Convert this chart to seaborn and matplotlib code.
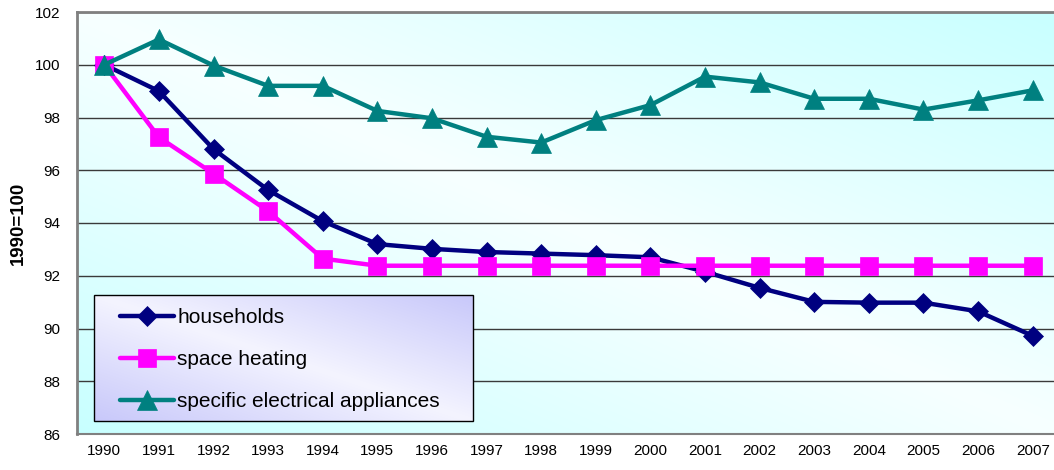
import numpy as np
import pandas as pd
import matplotlib
matplotlib.use("Agg")
import matplotlib.pyplot as plt
import seaborn as sns
from matplotlib.patches import Rectangle

# ---------------- data ----------------
years = list(range(1990, 2008))
households = [100.0, 99.0, 96.8, 95.25, 94.07, 93.2, 93.02, 92.9, 92.84,
              92.78, 92.7, 92.15, 91.54, 91.01, 90.98, 90.98, 90.65, 89.72]
space_heating = [100.0, 97.25, 95.87, 94.45, 92.65, 92.38, 92.38, 92.38, 92.38,
                 92.38, 92.38, 92.38, 92.38, 92.38, 92.38, 92.38, 92.38, 92.38]
appliances = [100.0, 100.96, 99.97, 99.2, 99.2, 98.25, 97.97, 97.27, 97.05,
              97.9, 98.47, 99.55, 99.33, 98.71, 98.71, 98.3, 98.65, 99.03]
series_names = ["households", "space heating", "specific electrical appliances"]
y_ticks = [86, 88, 90, 92, 94, 96, 98, 100, 102]
y_label = "1990=100"

# ---------------- style ----------------
sns.set_style("white")
plt.rcParams["font.family"] = ["Liberation Sans", "DejaVu Sans"]
plt.rcParams["text.color"] = "black"
plt.rcParams["axes.labelcolor"] = "black"
plt.rcParams["xtick.labelcolor"] = "black"
plt.rcParams["ytick.labelcolor"] = "black"

colors = {"households": "#000080", "space heating": "#FF00FF",
          "specific electrical appliances": "#008080"}
markers = {"households": "D", "space heating": "s",
           "specific electrical appliances": "^"}
msizes = {"households": 10, "space heating": 13,
          "specific electrical appliances": 15}

df = pd.DataFrame({
    "year": years * 3,
    "value": households + space_heating + appliances,
    "series": sum([[n] * len(years) for n in series_names], []),
})

W, H = 1054, 470
fig = plt.figure(figsize=(W / 100, H / 100), dpi=100)
fig.patch.set_facecolor("white")
ax_w_px = 1060 - 77
ax = fig.add_axes([77 / W, 1 - 434 / H, ax_w_px / W, (434 - 12) / H])

x0, x1 = years[0] - 0.5, years[-1] + 0.5
y0, y1 = y_ticks[0], y_ticks[-1]


def diag_gradient(light, dark, n=200):
    u = np.linspace(0, 1, n)
    v = np.linspace(1, 0, n)  # top row first
    U, V = np.meshgrid(u, v)
    d = np.abs(U + V - 1.0)
    light = np.array(matplotlib.colors.to_rgb(light))
    dark = np.array(matplotlib.colors.to_rgb(dark))
    return light[None, None, :] * (1 - d[..., None]) + dark[None, None, :] * d[..., None]


# plot-area gradient
ax.imshow(diag_gradient("#f7ffff", "#c8ffff"), extent=[x0, x1, y0, y1],
          aspect="auto", zorder=0, interpolation="bicubic")

for name in series_names:
    sub = df[df["series"] == name]
    sns.lineplot(data=sub, x="year", y="value", ax=ax, color=colors[name],
                 marker=markers[name], markersize=msizes[name],
                 markeredgecolor=colors[name], markeredgewidth=0.5,
                 linewidth=3.2, label=name, zorder=3, legend=False)

ax.set_xlim(x0, x1)
ax.set_ylim(y0, y1)

# grid
ax.set_axisbelow(True)
ax.yaxis.grid(True, color="#3a3a3a", linewidth=1.0)
ax.xaxis.grid(False)

# ticks
ax.set_yticks(y_ticks)
ax.set_yticklabels([str(t) for t in y_ticks], fontsize=11, color="black")
ax.set_xticks([x0 + i for i in range(len(years) + 1)])
ax.set_xticklabels([])
ax.set_xticks(years, minor=True)
ax.set_xticklabels([str(y) for y in years], minor=True, fontsize=11,
                   color="black")
ax.tick_params(axis="x", which="major", direction="out", length=6, width=1.2,
               color="#404040")
ax.tick_params(axis="x", which="minor", length=0, pad=7)
ax.tick_params(axis="y", direction="out", length=6, width=1.2, color="#404040",
               pad=6)
ax.set_xlabel("")
ax.set_ylabel(y_label, fontsize=13.4, fontweight="bold", color="black")
ax.yaxis.set_label_coords((27 - 77) / ax_w_px, 0.5)

for s in ["left", "top", "bottom"]:
    ax.spines[s].set_color("#808080")
    ax.spines[s].set_linewidth(2)
ax.spines["bottom"].set_linewidth(1.5)
ax.spines["right"].set_visible(False)

# ---------------- legend ----------------
fig.canvas.draw()
inv = ax.transData.inverted()
# legend box in figure pixels (top-left origin)
bx0, by0, bx1, by1 = 94, 295, 473, 421
(lx0, ly1) = inv.transform((bx0, H - by0))
(lx1, ly0) = inv.transform((bx1, H - by1))
ax.imshow(diag_gradient("#f4f4ff", "#c8c8fa"), extent=[lx0, lx1, ly0, ly1],
          aspect="auto", zorder=4, interpolation="bicubic")
ax.add_patch(Rectangle((lx0, ly0), lx1 - lx0, ly1 - ly0, fill=False,
                       edgecolor="black", linewidth=1.0, zorder=4.5))
ax.set_xlim(x0, x1)
ax.set_ylim(y0, y1)

handles, labels = ax.get_legend_handles_labels()
leg = ax.legend(handles, labels, loc="upper left",
                bbox_to_anchor=((bx0 + 22) / W, 1 - (by0 + 9) / H),
                bbox_transform=fig.transFigure, frameon=False,
                fontsize=15, handlelength=2.6, handletextpad=0.15,
                labelspacing=1.1, borderpad=0.2, borderaxespad=0,
                labelcolor="black")
leg.set_zorder(5)

fig.savefig("out.png", dpi=100, facecolor="white")
